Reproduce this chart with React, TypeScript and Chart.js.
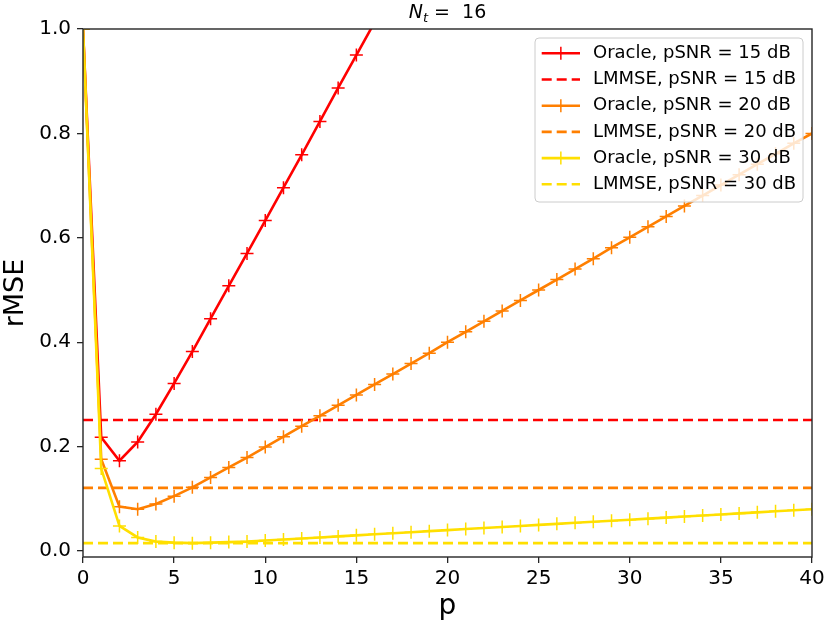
import { useEffect, useRef } from 'react'
import { Chart, registerables, type Plugin } from 'chart.js'

Chart.register(...registerables)

const FONT = '"DejaVu Sans", sans-serif'

// pilot spacing p = 0..40
const P = [
  0, 1, 2, 3, 4, 5, 6, 7, 8, 9, 10, 11, 12, 13, 14, 15, 16, 17, 18, 19, 20,
  21, 22, 23, 24, 25, 26, 27, 28, 29, 30, 31, 32, 33, 34, 35, 36, 37, 38, 39, 40,
]
const X_TICKS = [0, 5, 10, 15, 20, 25, 30, 35, 40]
const Y_TICKS = [0, 0.2, 0.4, 0.6, 0.8, 1.0]
const Y_MIN = -0.0115

// red curve leaves the axes after p = 15, only the visible part is kept
const ORACLE_15 = [
  1.0, 0.218, 0.173, 0.209, 0.262, 0.321, 0.382, 0.445, 0.508, 0.57, 0.633,
  0.696, 0.759, 0.823, 0.887, 0.95, 1.013, 1.076,
]
const ORACLE_20 = [
  1.0, 0.176, 0.085, 0.08, 0.09, 0.105, 0.122, 0.141, 0.16, 0.179, 0.199,
  0.219, 0.239, 0.259, 0.279, 0.299, 0.319, 0.339, 0.359, 0.379, 0.4,
  0.42, 0.44, 0.46, 0.48, 0.5, 0.52, 0.54, 0.56, 0.581, 0.601,
  0.621, 0.641, 0.661, 0.681, 0.701, 0.721, 0.741, 0.761, 0.781, 0.8,
]
const ORACLE_30 = [
  1.0, 0.158, 0.048, 0.026, 0.018, 0.016, 0.015, 0.016, 0.017, 0.018, 0.02,
  0.022, 0.024, 0.026, 0.028, 0.03, 0.032, 0.034, 0.036, 0.038, 0.04,
  0.042, 0.044, 0.046, 0.048, 0.05, 0.052, 0.054, 0.056, 0.058, 0.06,
  0.062, 0.064, 0.066, 0.068, 0.07, 0.072, 0.074, 0.076, 0.078, 0.08,
]
const LMMSE_15 = 0.251
const LMMSE_20 = 0.121
const LMMSE_30 = 0.015

const LABELS = [
  'Oracle, pSNR = 15 dB',
  'LMMSE, pSNR = 15 dB',
  'Oracle, pSNR = 20 dB',
  'LMMSE, pSNR = 20 dB',
  'Oracle, pSNR = 30 dB',
  'LMMSE, pSNR = 30 dB',
]
const COLORS = ['#ff0000', '#ff7f00', '#ffdf00']

const DASH = [10, 5]
const SPINE = '#262626'

function oracleSet(label: string, values: number[], color: string, order: number) {
  return {
    label,
    data: values.map((v, i) => ({ x: P[i], y: v })),
    borderColor: color,
    backgroundColor: color,
    borderWidth: 2.6,
    pointStyle: 'cross',
    pointRadius: 6.5,
    pointBorderWidth: 1.5,
    pointBorderColor: color,
    pointHoverRadius: 6.5,
    tension: 0,
    fill: false,
    clip: 0,
    order,
  }
}

function lmmseSet(label: string, value: number, color: string, order: number) {
  return {
    label,
    data: P.map((p) => ({ x: p, y: value })),
    borderColor: color,
    backgroundColor: color,
    borderWidth: 2.6,
    borderDash: DASH,
    pointRadius: 0,
    pointHoverRadius: 0,
    tension: 0,
    fill: false,
    clip: 0,
    order,
  }
}

const framePlugin: Plugin<'line'> = {
  id: 'frame',
  afterDatasetsDraw(chart) {
    const { ctx, chartArea: a } = chart
    ctx.save()
    ctx.strokeStyle = SPINE
    ctx.lineWidth = 1.4
    ctx.strokeRect(a.left, a.top, a.right - a.left, a.bottom - a.top)
    ctx.restore()
  },
}

const boxLegendPlugin: Plugin<'line'> = {
  id: 'boxLegend',
  afterDatasetsDraw(chart) {
    const { ctx, chartArea: a } = chart
    const w = 268
    const h = 164
    const x0 = a.right - 9 - w
    const y0 = a.top + 9
    const rowH = 26.2
    ctx.save()
    ctx.beginPath()
    ctx.roundRect(x0, y0, w, h, 4)
    ctx.fillStyle = 'rgba(255,255,255,0.8)'
    ctx.fill()
    ctx.strokeStyle = '#cccccc'
    ctx.lineWidth = 1
    ctx.stroke()

    ctx.font = `18px ${FONT}`
    ctx.textBaseline = 'middle'
    chart.data.datasets.forEach((ds: any, i) => {
      const cy = y0 + 15.3 + i * rowH
      const lx0 = x0 + 6.7
      const lx1 = x0 + 45
      ctx.strokeStyle = ds.borderColor
      ctx.lineWidth = ds.borderWidth
      ctx.setLineDash(ds.borderDash ?? [])
      ctx.beginPath()
      ctx.moveTo(lx0, cy)
      ctx.lineTo(lx1, cy)
      ctx.stroke()
      ctx.setLineDash([])
      if (ds.pointRadius > 0) {
        const cx = (lx0 + lx1) / 2
        const r = ds.pointRadius
        ctx.lineWidth = ds.pointBorderWidth
        ctx.beginPath()
        ctx.moveTo(cx - r, cy)
        ctx.lineTo(cx + r, cy)
        ctx.moveTo(cx, cy - r)
        ctx.lineTo(cx, cy + r)
        ctx.stroke()
      }
      ctx.fillStyle = '#000'
      ctx.fillText(ds.label, x0 + 58, cy)
    })
    ctx.restore()
  },
}

const mathTitlePlugin: Plugin<'line'> = {
  id: 'mathTitle',
  afterDraw(chart) {
    const { ctx, chartArea: a } = chart
    const baseline = 18.3
    const main = `19px ${FONT}`
    const italic = `italic 19px ${FONT}`
    const sub = `italic 13px ${FONT}`
    const rest = ' =  16'
    ctx.save()
    ctx.fillStyle = '#000'
    ctx.textBaseline = 'alphabetic'
    ctx.textAlign = 'left'
    ctx.font = italic
    const wN = ctx.measureText('N').width
    ctx.font = sub
    const wT = ctx.measureText('t').width
    ctx.font = main
    const wR = ctx.measureText(rest).width
    let x = (a.left + a.right) / 2 - (wN + wT + wR) / 2
    ctx.font = italic
    ctx.fillText('N', x, baseline)
    x += wN
    ctx.font = sub
    ctx.fillText('t', x, baseline + 4)
    x += wT
    ctx.font = main
    ctx.fillText(rest, x, baseline)
    ctx.restore()
  },
}

export default function App() {
  const canvasRef = useRef<HTMLCanvasElement>(null)

  useEffect(() => {
    document.body.style.margin = '0'
    const canvas = canvasRef.current
    if (!canvas) return
    Chart.getChart(canvas)?.destroy()

    const tickGrid = {
      drawOnChartArea: false,
      drawTicks: true,
      tickLength: 6,
      tickColor: SPINE,
      lineWidth: 1.3,
    }

    const chart = new Chart(canvas, {
      type: 'line',
      data: {
        datasets: [
          oracleSet(LABELS[0], ORACLE_15, COLORS[0], 6),
          lmmseSet(LABELS[1], LMMSE_15, COLORS[0], 5),
          oracleSet(LABELS[2], ORACLE_20, COLORS[1], 4),
          lmmseSet(LABELS[3], LMMSE_20, COLORS[1], 3),
          oracleSet(LABELS[4], ORACLE_30, COLORS[2], 2),
          lmmseSet(LABELS[5], LMMSE_30, COLORS[2], 1),
        ] as any,
      },
      options: {
        responsive: false,
        animation: false,
        layout: { padding: { top: 29, right: 18, bottom: 0, left: 0 } },
        plugins: {
          legend: { display: false },
          tooltip: { enabled: false },
          title: { display: false },
        },
        scales: {
          x: {
            type: 'linear',
            min: 0,
            max: 40,
            afterFit: (s: any) => {
              s.height = 70
            },
            afterBuildTicks: (s: any) => {
              s.ticks = X_TICKS.map((v) => ({ value: v }))
            },
            grid: tickGrid,
            border: { display: false },
            ticks: {
              padding: 4,
              maxRotation: 0,
              autoSkip: false,
              color: '#000',
              font: { family: FONT, size: 20 },
              callback: (v) => String(v),
            },
            title: {
              display: true,
              text: 'p',
              color: '#000',
              font: { family: FONT, size: 28 },
              padding: { top: 0, bottom: 3 },
            },
          },
          y: {
            type: 'linear',
            min: Y_MIN,
            max: 1,
            afterFit: (s: any) => {
              s.width = 83
            },
            afterBuildTicks: (s: any) => {
              s.ticks = Y_TICKS.map((v) => ({ value: v }))
            },
            grid: tickGrid,
            border: { display: false },
            ticks: {
              padding: 6,
              color: '#000',
              font: { family: FONT, size: 20 },
              callback: (v) => Number(v).toFixed(1),
            },
            title: {
              display: true,
              text: 'rMSE',
              color: '#000',
              font: { family: FONT, size: 27 },
              padding: { top: 0, bottom: 0 },
            },
          },
        },
      },
      plugins: [framePlugin, boxLegendPlugin, mathTitlePlugin],
    })

    return () => {
      chart.destroy()
    }
  }, [])

  return (
    <div style={{ width: 830, height: 627, background: '#fff' }}>
      <canvas ref={canvasRef} width={830} height={627} aria-label="rMSE versus p for Nt = 16" />
    </div>
  )
}
